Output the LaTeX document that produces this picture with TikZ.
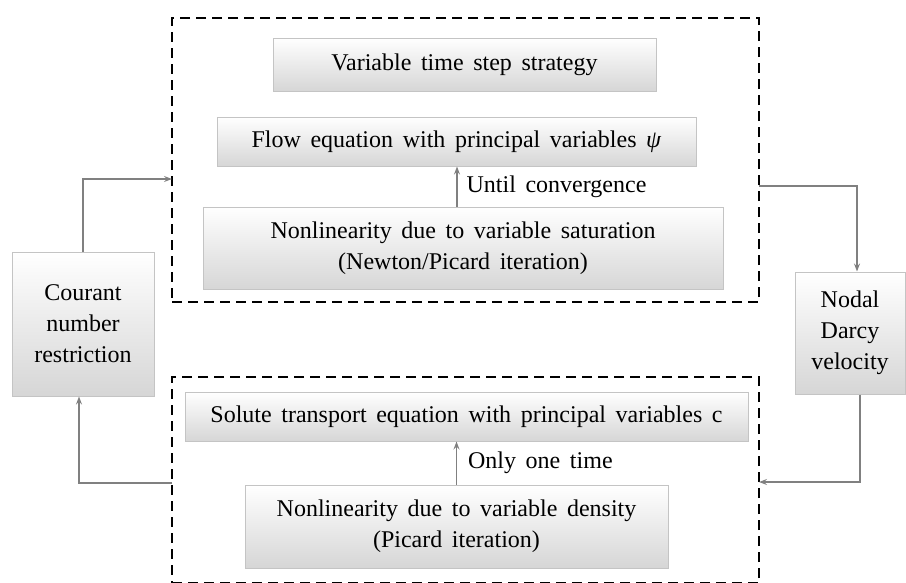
\documentclass[tikz,border=0pt]{standalone}
\usepackage{fontspec}
\setmainfont{Liberation Serif}
\usetikzlibrary{arrows.meta,calc}
\definecolor{boxedge}{HTML}{C4C4C4}
\definecolor{boxbot}{HTML}{D6D6D6}
\definecolor{conncol}{HTML}{808080}
\definecolor{txt}{HTML}{000000}
\newcommand\mybxfont{\fontsize{24}{31}\selectfont\setlength{\spaceskip}{0.4em plus 0.1em}}
\begin{document}
\begin{tikzpicture}[x=1pt,y=-1pt,
  box/.style={draw=boxedge, line width=1pt, top color=white, bottom color=boxbot,
    inner sep=0pt, align=center, text=txt, font=\mybxfont},
  group/.style={draw=black, line width=2.6pt, dash pattern=on 10pt off 6pt, inner sep=0pt},
  conn/.style={draw=conncol, line width=1.3pt, -{Stealth[length=8pt,width=6pt,inset=3pt]}},
  lbl/.style={text=txt, inner sep=0pt, font=\mybxfont}]
\useasboundingbox (0,0) rectangle (906,582);
% dashed groups
\node[group, minimum width=587pt, minimum height=284pt] (topgroup) at (465.5,160) {};
\node[group, minimum width=587pt, minimum height=206pt] (botgroup) at (465.5,480) {};
% boxes
\node[box, minimum width=383pt, minimum height=53pt] (strategy) at (464.5,64.5) {Variable time step strategy};
\node[box, minimum width=479pt, minimum height=49pt] (flow) at (456.5,141.5) {Flow equation with principal variables \textit{ψ}};
\node[box, minimum width=520pt, minimum height=82pt] (satur) at (463,248) {Nonlinearity due to variable saturation\\(Newton/Picard iteration)};
\node[box, minimum width=563pt, minimum height=49pt] (solute) at (466.5,416.5) {Solute transport equation with principal variables c};
\node[box, minimum width=423pt, minimum height=83pt] (density) at (456.5,526.5) {Nonlinearity due to variable density\\(Picard iteration)};
\node[box, minimum width=142pt, minimum height=144pt] (courant) at (83,324) {Courant\\number\\restriction};
\node[box, minimum width=110pt, minimum height=122pt] (nodal) at (850,333) {Nodal\\Darcy\\velocity};
% connector end points on the dashed frames
\coordinate (tin) at (172,179);
\coordinate (tout) at (759,186);
\coordinate (bin) at (759,482);
\coordinate (bout) at (172,483);
% inner arrows
\draw[conn] ([xshift=-6pt]satur.north) -- ([xshift=-6pt]satur.north |- flow.south)
  node[lbl, midway, anchor=west, xshift=9pt] {Until convergence};
\draw[conn] (density.north) -- (density.north |- solute.south)
  node[lbl, midway, anchor=west, xshift=11pt] {Only one time};
% outer loop
\draw[conn] (courant.north) |- (tin);
\draw[conn] (tout) -| ([xshift=7pt]nodal.north);
\draw[conn] ([xshift=10pt]nodal.south) |- (bin);
\draw[conn] (bout) -| ([xshift=-4pt]courant.south);
\end{tikzpicture}
\end{document}
